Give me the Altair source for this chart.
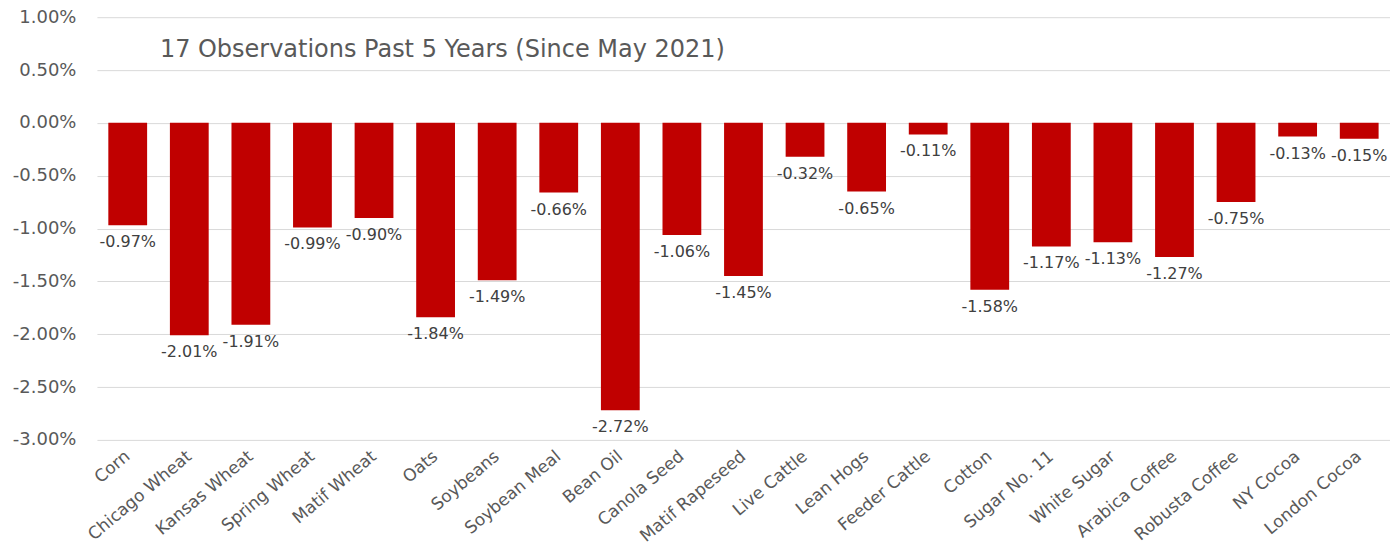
import altair as alt
import pandas as pd

categories = ["Corn", "Chicago Wheat", "Kansas Wheat", "Spring Wheat", "Matif Wheat", "Oats",
              "Soybeans", "Soybean Meal", "Bean Oil", "Canola Seed", "Matif Rapeseed",
              "Live Cattle", "Lean Hogs", "Feeder Cattle", "Cotton", "Sugar No. 11",
              "White Sugar", "Arabica Coffee", "Robusta Coffee", "NY Cocoa", "London Cocoa"]
values_pct = [-0.97, -2.01, -1.91, -0.99, -0.90, -1.84, -1.49, -0.66, -2.72, -1.06, -1.45,
              -0.32, -0.65, -0.11, -1.58, -1.17, -1.13, -1.27, -0.75, -0.13, -0.15]
y_ticks_pct = [1.0, 0.5, 0.0, -0.5, -1.0, -1.5, -2.0, -2.5, -3.0]
subtitle = "17 Observations Past 5 Years (Since May 2021)"

df = pd.DataFrame({"cat": categories, "val": [v / 100 for v in values_pct]})

FONT = "DejaVu Sans"
W, H = 1294, 423
GREY = "#595959"

x = alt.X("cat:N", sort=categories, title=None,
          scale=alt.Scale(paddingInner=0.37, paddingOuter=0.185),
          axis=alt.Axis(labelAngle=-40, labelAlign="right", labelBaseline="middle",
                        labelFont=FONT, labelFontSize=17, labelColor=GREY,
                        labelPadding=14, ticks=False, domain=False, grid=False))
y = alt.Y("val:Q", title=None,
          scale=alt.Scale(domain=[-0.03, 0.01], nice=False, zero=False),
          axis=alt.Axis(values=[v / 100 for v in y_ticks_pct],
                        labelExpr="replace(format(datum.value, '.2%'), '\u2212', '-')",
                        labelFont=FONT, labelFontSize=18, labelColor=GREY,
                        labelPadding=21, ticks=False, domain=False,
                        gridColor="#d9d9d9", gridWidth=1))

base = alt.Chart(df)

bars = base.mark_bar(color="#C00000").encode(x=x, y=y, y2=alt.datum(0))

labels = base.transform_calculate(
    lab="replace(format(datum.val, '.2%'), '\u2212', '-')"
).mark_text(font=FONT, fontSize=16, color="#404040", baseline="top", dy=9).encode(
    x=x, y=y, text="lab:N")

sub = alt.Chart(pd.DataFrame({"t": [subtitle]})).mark_text(
    font=FONT, fontSize=24, color=GREY, align="left", baseline="middle").encode(
    x=alt.value(160 - 97), y=alt.value(50 - 17), text="t:N")

chart = alt.layer(bars, labels, sub).properties(
    width=W, height=H,
    autosize="none",
    background="white",
    padding={"left": 89, "top": 9, "right": 0, "bottom": 110},
).configure_axis(domain=False).configure_view(stroke=None)

chart.save("out.html", embed_options={"renderer": "svg", "actions": False})
